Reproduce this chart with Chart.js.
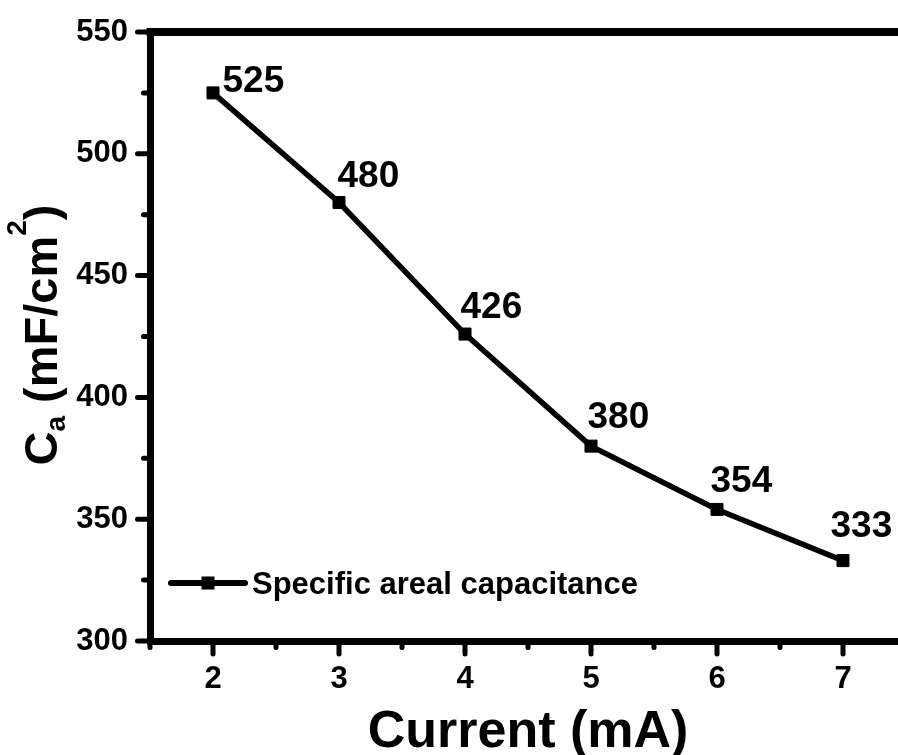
<!DOCTYPE html>
<html>
<head>
<meta charset="utf-8">
<title>Specific areal capacitance vs current</title>
<script src="https://cdn.jsdelivr.net/npm/chart.js@4.4.1/dist/chart.umd.min.js"></script>
<style>
  html, body { margin: 0; padding: 0; background: #fff; overflow: hidden; }
  #wrap { width: 920px; height: 755px; }
</style>
</head>
<body>
<div id="wrap"><canvas id="chart" width="920" height="755"></canvas></div>
<script>
// Measured data
const currents = [2, 3, 4, 5, 6, 7];                 // mA
const capacitance = [525, 480, 426, 380, 354, 333];  // mF/cm^2
const seriesName = 'Specific areal capacitance';

// Axis ticks
const xTickValues = [2, 3, 4, 5, 6, 7];
const xMinorTicks = [1.5, 2.5, 3.5, 4.5, 5.5, 6.5, 7.5];
const yTickValues = [300, 350, 400, 450, 500, 550];
const yMinorTicks = [325, 375, 425, 475, 525];

const xTitle = 'Current (mA)';

const FONT = "'Liberation Sans', Arial, Helvetica, sans-serif";
const INK = '#000000';

// Offsets of each value label from its marker (left edge / baseline)
const labelOffsets = [[9.5, -1], [-1.5, -15.5], [-4.5, -16], [-3.5, -18], [-6.5, -17.5], [-12.5, -23.5]];

const frameAndTicks = {
  id: 'frameAndTicks',
  afterDraw(chart) {
    const { ctx, chartArea: a, scales: { x, y } } = chart;
    ctx.save();
    ctx.strokeStyle = INK;
    ctx.lineCap = 'butt';
    // top and right frame lines
    ctx.lineWidth = 8;
    ctx.beginPath();
    ctx.moveTo(a.left - 3.5, a.top);
    ctx.lineTo(a.right + 4, a.top);
    ctx.stroke();
    ctx.lineWidth = 7;
    ctx.beginPath();
    ctx.moveTo(a.right, a.top - 4);
    ctx.lineTo(a.right, a.bottom + 3.5);
    ctx.stroke();

    // outward tick marks
    ctx.lineCap = 'round';
    ctx.lineWidth = 5;
    const seg = (x1, y1, x2, y2) => { ctx.beginPath(); ctx.moveTo(x1, y1); ctx.lineTo(x2, y2); ctx.stroke(); };
    yTickValues.forEach(v => { const p = y.getPixelForValue(v); seg(a.left, p, a.left - 12.5, p); });
    yMinorTicks.forEach(v => { const p = y.getPixelForValue(v); seg(a.left, p, a.left - 6.5, p); });
    xTickValues.forEach(v => { const p = x.getPixelForValue(v); seg(p, a.bottom, p, a.bottom + 13); });
    xMinorTicks.forEach(v => { const p = x.getPixelForValue(v); seg(p, a.bottom, p, a.bottom + 6.5); });
    ctx.restore();
  }
};

const valueLabels = {
  id: 'valueLabels',
  afterDatasetsDraw(chart) {
    const { ctx } = chart;
    const meta = chart.getDatasetMeta(0);
    ctx.save();
    ctx.fillStyle = INK;
    ctx.font = `bold 37px ${FONT}`;
    ctx.textAlign = 'left';
    ctx.textBaseline = 'alphabetic';
    meta.data.forEach((pt, i) => {
      const [dx, dy] = labelOffsets[i];
      ctx.fillText(String(capacitance[i]), pt.x + dx, pt.y + dy);
    });
    ctx.restore();
  }
};

const legendBox = {
  id: 'legendBox',
  afterDraw(chart) {
    const { ctx, chartArea: a } = chart;
    const ds = chart.data.datasets[0];
    const cy = 583;
    ctx.save();
    ctx.strokeStyle = INK;
    ctx.fillStyle = INK;
    ctx.lineWidth = 6;
    ctx.lineCap = 'round';
    ctx.beginPath();
    ctx.moveTo(a.left + 21, cy);
    ctx.lineTo(a.left + 95, cy);
    ctx.stroke();
    ctx.fillRect(a.left + 51.5, cy - 6.5, 13, 13);
    ctx.font = `bold 31px ${FONT}`;
    ctx.textBaseline = 'alphabetic';
    ctx.textAlign = 'left';
    ctx.fillText(ds.label, a.left + 102, cy + 11);
    ctx.restore();
  }
};

const axisTitles = {
  id: 'axisTitles',
  afterDraw(chart) {
    const { ctx, chartArea: a } = chart;
    ctx.save();
    ctx.fillStyle = INK;
    // x title
    ctx.font = `bold 52px ${FONT}`;
    ctx.textAlign = 'center';
    ctx.textBaseline = 'alphabetic';
    ctx.fillText(xTitle, (a.left + a.right) / 2, 747);

    // y title with subscript and superscript
    const parts = [
      { t: 'C', size: 47, dy: 0 },
      { t: 'a', size: 28, dy: 8 },
      { t: ' (mF/cm', size: 47, dy: 0 },
      { t: '2', size: 28, dy: -31 },
      { t: ')', size: 47, dy: 0 }
    ];
    let total = 0;
    parts.forEach(p => { ctx.font = `bold ${p.size}px ${FONT}`; p.w = ctx.measureText(p.t).width; total += p.w; });
    ctx.translate(57, 335);
    ctx.rotate(-Math.PI / 2);
    ctx.textAlign = 'left';
    let cx = -total / 2;
    parts.forEach(p => {
      ctx.font = `bold ${p.size}px ${FONT}`;
      ctx.fillText(p.t, cx, p.dy);
      cx += p.w;
    });
    ctx.restore();
  }
};

new Chart(document.getElementById('chart'), {
  type: 'line',
  data: {
    datasets: [{
      label: seriesName,
      data: currents.map((c, i) => ({ x: c, y: capacitance[i] })),
      borderColor: INK,
      backgroundColor: INK,
      borderWidth: 5.5,
      tension: 0,
      pointStyle: 'rect',
      pointRadius: 8.5,
      pointHoverRadius: 8.5,
      pointBorderWidth: 1,
      pointBackgroundColor: INK,
      pointBorderColor: INK,
      clip: false
    }]
  },
  options: {
    responsive: false,
    animation: false,
    devicePixelRatio: 1,
    layout: { padding: { top: 32, right: 14, left: 0, bottom: 0 } },
    plugins: { legend: { display: false }, tooltip: { enabled: false }, title: { display: false } },
    scales: {
      x: {
        type: 'linear',
        min: 1.5,
        max: 7.5,
        afterBuildTicks: s => { s.ticks = xTickValues.map(v => ({ value: v })); },
        afterFit: s => { s.height = 114; s.paddingLeft = 0; s.paddingRight = 0; },
        grid: { display: true, drawOnChartArea: false, drawTicks: false },
        border: { display: true, color: INK, width: 7 },
        ticks: { color: INK, font: { family: FONT, size: 31, weight: 'bold' }, padding: 20, maxRotation: 0, autoSkip: false }
      },
      y: {
        type: 'linear',
        min: 300,
        max: 550,
        afterBuildTicks: s => { s.ticks = yTickValues.map(v => ({ value: v })); },
        afterFit: s => { s.width = 150; s.paddingTop = 0; s.paddingBottom = 0; },
        grid: { display: true, drawOnChartArea: false, drawTicks: false },
        border: { display: true, color: INK, width: 7 },
        ticks: { color: INK, font: { family: FONT, size: 31, weight: 'bold' }, padding: 22 }
      }
    }
  },
  plugins: [frameAndTicks, valueLabels, legendBox, axisTitles]
});
</script>
</body>
</html>
